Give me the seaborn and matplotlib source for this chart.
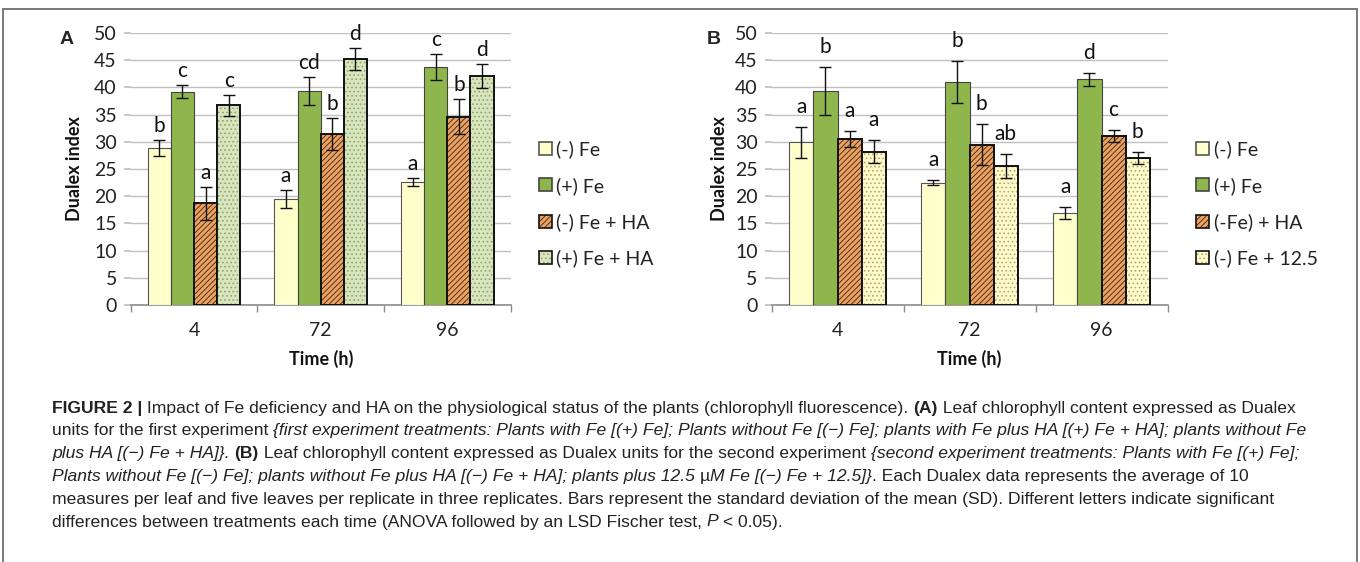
import pandas as pd
import matplotlib
matplotlib.use('Agg')
from matplotlib import pyplot as plt
from matplotlib.patches import Patch, Rectangle
from matplotlib.colors import to_rgba
from matplotlib.transforms import IdentityTransform
import seaborn as sns

times = ['4', '72', '96']

# (A) first experiment
a_labels = ['(-) Fe', '(+) Fe', '(-) Fe + HA', '(+) Fe + HA']
a_minus_fe = [28.8, 19.5, 22.6]
a_plus_fe = [39.2, 39.3, 43.7]
a_minus_fe_ha = [18.7, 31.4, 34.6]
a_plus_fe_ha = [36.7, 45.2, 42.1]
a_minus_fe_sd = [1.5, 1.6, 0.7]
a_plus_fe_sd = [1.2, 2.6, 2.4]
a_minus_fe_ha_sd = [3.0, 2.9, 3.2]
a_plus_fe_ha_sd = [1.9, 2.0, 2.2]
a_minus_fe_let = ['b', 'a', 'a']
a_plus_fe_let = ['c', 'cd', 'c']
a_minus_fe_ha_let = ['a', 'b', 'b']
a_plus_fe_ha_let = ['c', 'd', 'd']

# (B) second experiment
b_labels = ['(-) Fe', '(+) Fe', '(-Fe) + HA', '(-) Fe + 12.5']
b_minus_fe = [29.9, 22.5, 17.0]
b_plus_fe = [39.3, 41.0, 41.5]
b_minus_fe_ha = [30.5, 29.5, 31.1]
b_minus_fe_125 = [28.2, 25.6, 27.1]
b_minus_fe_sd = [2.9, 0.5, 1.1]
b_plus_fe_sd = [4.4, 3.9, 1.2]
b_minus_fe_ha_sd = [1.5, 3.8, 1.1]
b_minus_fe_125_sd = [2.1, 2.2, 1.1]
b_minus_fe_let = ['a', 'a', 'a']
b_plus_fe_let = ['b', 'b', 'd']
b_minus_fe_ha_let = ['a', 'b', 'c']
b_minus_fe_125_let = ['a', 'ab', 'b']

# bar styles: face, hatch, hatch colour, edge, linewidth
st_minus = ('#FFFFCC', '', '#555555', '#555555', 0.8)
st_plus = ('#8FB64C', '', '#444444', '#444444', 0.8)
st_ha = ('#E8A468', '//////', '#5E2E0C', '#111111', 1.4)
st_plus_ha = ('#D9E5BF', '....', '#8FA868', '#111111', 1.4)
st_125 = ('#FFFBCB', '....', '#B8A86C', '#111111', 1.4)

sns.set_theme(style='white')
plt.rcParams['font.family'] = ['Lato', 'DejaVu Sans']
plt.rcParams['hatch.linewidth'] = 0.7

fig = plt.figure(figsize=(13.6, 5.62), dpi=100)


def style_bar(p, st):
    p.set_edgecolor(st[3])
    p.set_linewidth(st[4])
    p.set_hatch(st[1])
    p._hatch_color = to_rgba(st[2])


def draw_panel(ax, labels, means, sds, lets, styles, let_off, leg_x):
    rows = []
    for lab, vals in zip(labels, means):
        for t, v in zip(times, vals):
            rows.append({'Time (h)': t, 'treatment': lab, 'value': v})
    df = pd.DataFrame(rows)
    sns.barplot(data=df, x='Time (h)', y='value', hue='treatment',
                order=times, hue_order=labels,
                palette=dict(zip(labels, [s[0] for s in styles])),
                saturation=1, errorbar=None, width=0.73, gap=0,
                legend=False, ax=ax, zorder=3)
    for cont, st, sd, lt in zip(ax.containers, styles, sds, lets):
        xs, ys = [], []
        for p in cont:
            style_bar(p, st)
            xs.append(p.get_x() + p.get_width() / 2)
            ys.append(p.get_height())
        ax.errorbar(xs, ys, yerr=sd, fmt='none', ecolor='#111111',
                    elinewidth=1.0, capsize=4.5, capthick=1.0, zorder=5)
        for x, y, e, s in zip(xs, ys, sd, lt):
            ax.annotate(s, (x, y + e), xytext=(0, let_off),
                        textcoords='offset points', ha='center',
                        va='baseline', fontsize=15, color='#111111')

    ax.set_ylim(0, 50)
    ax.set_xlim(-0.5, 2.5)
    ax.set_yticks(range(0, 51, 5))
    ax.yaxis.grid(True, color='#C0C0C0', lw=1.0)
    ax.set_axisbelow(True)
    for s in ['top', 'right', 'left']:
        ax.spines[s].set_visible(False)
    ax.spines['bottom'].set_color('#8C8C8C')
    ax.spines['bottom'].set_linewidth(1.2)
    ax.tick_params(axis='y', length=5, color='#C0C0C0', pad=5,
                   labelsize=14, labelcolor='#222222', left=True)
    ax.tick_params(axis='x', which='major', length=0, pad=12,
                   labelsize=14, labelcolor='#222222')
    ax.set_xticks([-0.5, 0.5, 1.5, 2.5], minor=True)
    ax.tick_params(axis='x', which='minor', length=5, color='#8C8C8C',
                   width=1.0, bottom=True)
    ax.set_xlabel('Time (h)', fontsize=13, fontweight='bold', color='#111111')
    ax.set_ylabel('Dualex index', fontsize=13, fontweight='bold', color='#111111')
    ax.xaxis.set_label_coords(0.5, -0.165)

    handles = []
    for st in styles:
        h = Patch(facecolor=st[0], edgecolor=st[3], hatch=st[1], lw=1.2)
        h._hatch_color = to_rgba(st[2])
        handles.append(h)
    ax.legend(handles, labels, loc='center left', frameon=False,
              bbox_to_anchor=(leg_x / 1360, 1 - 204 / 562),
              bbox_transform=fig.transFigure, fontsize=14,
              handlelength=0.65, handleheight=0.65, handletextpad=0.25,
              labelspacing=0.95, borderpad=0, borderaxespad=0,
              labelcolor='#222222')


ax_a = fig.add_axes([130.7 / 1360, 257 / 562, 380 / 1360, 272 / 562])
draw_panel(ax_a, a_labels,
           [a_minus_fe, a_plus_fe, a_minus_fe_ha, a_plus_fe_ha],
           [a_minus_fe_sd, a_plus_fe_sd, a_minus_fe_ha_sd, a_plus_fe_ha_sd],
           [a_minus_fe_let, a_plus_fe_let, a_minus_fe_ha_let, a_plus_fe_ha_let],
           [st_minus, st_plus, st_ha, st_plus_ha], 6, 539)
ax_a.yaxis.set_label_coords(-0.125, 0.5)

ax_b = fig.add_axes([771.5 / 1360, 257 / 562, 396 / 1360, 272 / 562])
draw_panel(ax_b, b_labels,
           [b_minus_fe, b_plus_fe, b_minus_fe_ha, b_minus_fe_125],
           [b_minus_fe_sd, b_plus_fe_sd, b_minus_fe_ha_sd, b_minus_fe_125_sd],
           [b_minus_fe_let, b_plus_fe_let, b_minus_fe_ha_let, b_minus_fe_125_let],
           [st_minus, st_plus, st_ha, st_125], 10, 1196)
ax_b.yaxis.set_label_coords(-0.11, 0.5)

fig.text(67 / 1360, 1 - 40 / 562, 'A', fontsize=14, fontweight='bold',
         family=['Liberation Sans', 'DejaVu Sans'], ha='center', va='center')
fig.text(714 / 1360, 1 - 40 / 562, 'B', fontsize=14, fontweight='bold',
         family=['Liberation Sans', 'DejaVu Sans'], ha='center', va='center')

# frame around figure + caption
fig.add_artist(Rectangle((3 / 1360, -0.05), 1354 / 1360, 1.05 - 9 / 562,
                         transform=fig.transFigure, fill=False,
                         ec='#6E6E6E', lw=1.3))

caption = [
    [('FIGURE 2 |', 'b'),
     (' Impact of Fe deficiency and HA on the physiological status of the plants (chlorophyll fluorescence). ', 'n'),
     ('(A)', 'b'), (' Leaf chlorophyll content expressed as Dualex', 'n')],
    [('units for the first experiment ', 'n'),
     ('{first experiment treatments: Plants with Fe [(+) Fe]; Plants without Fe [(\u2212) Fe]; plants with Fe plus HA [(+) Fe + HA]; plants without Fe', 'i')],
    [('plus HA [(\u2212) Fe + HA]}. ', 'i'), ('(B)', 'b'),
     (' Leaf chlorophyll content expressed as Dualex units for the second experiment ', 'n'),
     ('{second experiment treatments: Plants with Fe [(+) Fe];', 'i')],
    [('Plants without Fe [(\u2212) Fe]; plants without Fe plus HA [(\u2212) Fe + HA]; plants plus 12.5 ', 'i'),
     ('\u00b5', 'n'), ('M Fe [(\u2212) Fe + 12.5]}', 'i'),
     ('. Each Dualex data represents the average of 10', 'n')],
    [('measures per leaf and five leaves per replicate in three replicates. Bars represent the standard deviation of the mean (SD). Different letters indicate significant', 'n')],
    [('differences between treatments each time (ANOVA followed by an LSD Fischer test, ', 'n'),
     ('P', 'i'), (' < 0.05).', 'n')],
]
cap_font = ['Liberation Sans', 'DejaVu Sans']
cap_kw = {'n': {}, 'b': {'fontweight': 'bold'}, 'i': {'style': 'italic'}}
renderer = fig.canvas.get_renderer()


def seg_width(s, kind, size):
    t1 = fig.text(0, 0, '|' + s + '|', fontsize=size, family=cap_font, **cap_kw[kind])
    t2 = fig.text(0, 0, '||', fontsize=size, family=cap_font, **cap_kw[kind])
    w = t1.get_window_extent(renderer).width - t2.get_window_extent(renderer).width
    t1.remove()
    t2.remove()
    return w


# fit first caption line to its width in the reference
base = 10.0
w0 = sum(seg_width(s, k, base) for s, k in caption[0])
cap_size = base * 1245 / w0

for i, line in enumerate(caption):
    x = 52
    y = 562 - (408 + 22.8 * i)
    for s, k in line:
        fig.text(x, y, s, fontsize=cap_size, family=cap_font, color='#222222',
                 va='center', ha='left', transform=IdentityTransform(), **cap_kw[k])
        x += seg_width(s, k, cap_size)

fig.savefig('out.png', dpi=100)
